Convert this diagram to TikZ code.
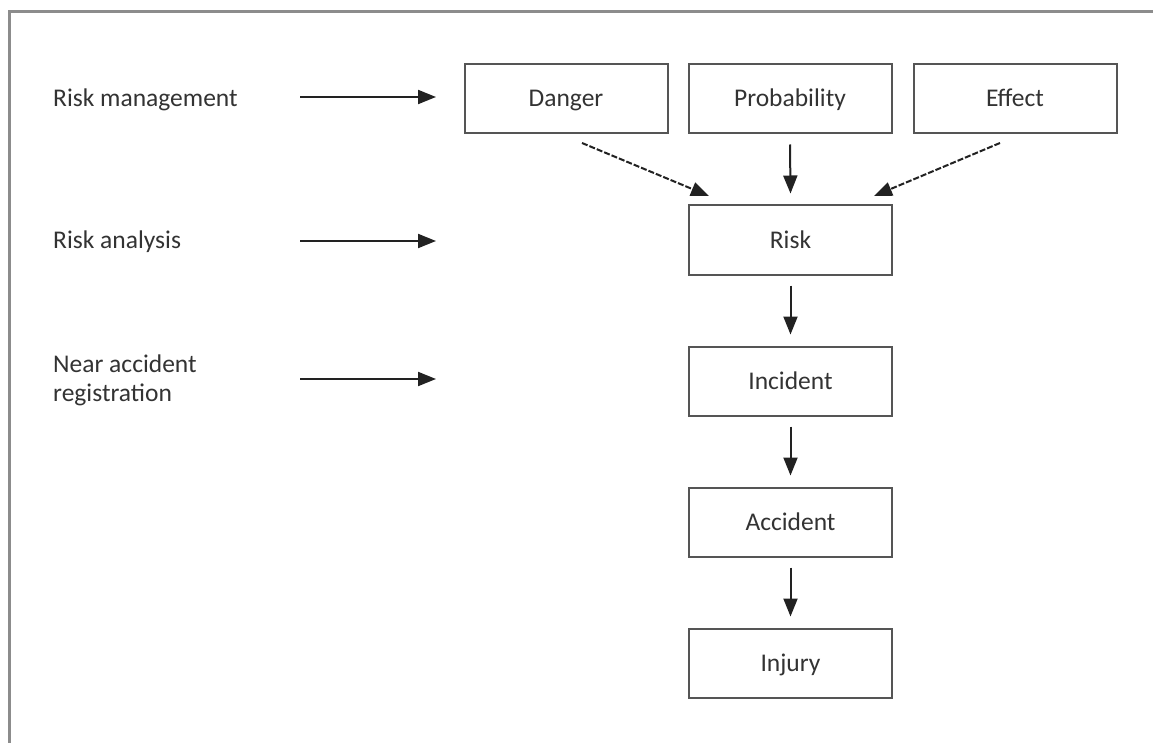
\documentclass[tikz,border=0pt]{standalone}
\usepackage{fontspec}
\setmainfont{Carlito}
\usetikzlibrary{arrows.meta}
\definecolor{txt}{HTML}{333333}
\definecolor{arrc}{HTML}{222222}
\definecolor{boxc}{HTML}{555555}
\definecolor{framec}{HTML}{8C8C8C}
\tikzset{
  stepbox/.style={draw=boxc, line width=2pt, minimum width=203pt, minimum height=69pt, inner sep=0pt, text height=21pt, text depth=5pt, text=txt, font=\fontsize{25.5}{29}\selectfont},
  lab/.style={anchor=west, align=left, text=txt, inner sep=0pt, font=\fontsize{25.5}{29}\selectfont},
  arr/.style={draw=arrc, line width=2pt, -{Triangle[length=18pt,width=14pt]}},
  darr/.style={arr, dash pattern=on 6pt off 2pt},
}
\begin{document}
\begin{tikzpicture}[x=1pt,y=-1pt]
\useasboundingbox (0,0) rectangle (1153,743);
\fill[white] (0,0) rectangle (1153,743);
\draw[framec, line width=3pt] (1153,12) -- (9.5,12) -- (9.5,743);
% boxes
\node[stepbox] (danger) at (566,99) {Danger};
\node[stepbox] (prob) at (790,99) {Probability};
\node[stepbox] (effect) at (1015,99) {Effect};
\node[stepbox] (risk) at (790.5,240) {Risk};
\node[stepbox] (incident) at (790.5,381) {Incident};
\node[stepbox] (accident) at (790.5,522) {Accident};
\node[stepbox] (injury) at (790.5,663) {Injury};
% labels
\node[lab, text height=21pt, text depth=5pt] (lrm) at (53,99) {Risk management};
\node[lab, text height=21pt, text depth=5pt] (lra) at (53,241) {Risk analysis};
\node[lab] (lna) at (53,380) {Near accident\\registration};
% left arrow coordinates
\coordinate (a1s) at (300,97); \coordinate (a1e) at (436,97);
\coordinate (a2s) at (300,241); \coordinate (a2e) at (436,241);
\coordinate (a3s) at (300,379); \coordinate (a3e) at (436,379);
\draw[arr] (a1s) -- (a1e);
\draw[arr] (a2s) -- (a2e);
\draw[arr] (a3s) -- (a3e);
% converging arrows
\coordinate (ds) at (582,143); \coordinate (de) at (709,196);
\coordinate (es) at (1000,143); \coordinate (ee) at (874,196);
\draw[darr] (ds) -- (de);
\draw[darr] (es) -- (ee);
\draw[arr] ([yshift=-10pt]prob.south) -- ([yshift=11pt]risk.north);
\draw[arr] ([yshift=-10pt]risk.south) -- ([yshift=11pt]incident.north);
\draw[arr] ([yshift=-10pt]incident.south) -- ([yshift=11pt]accident.north);
\draw[arr] ([yshift=-10pt]accident.south) -- ([yshift=11pt]injury.north);
\end{tikzpicture}
\end{document}
